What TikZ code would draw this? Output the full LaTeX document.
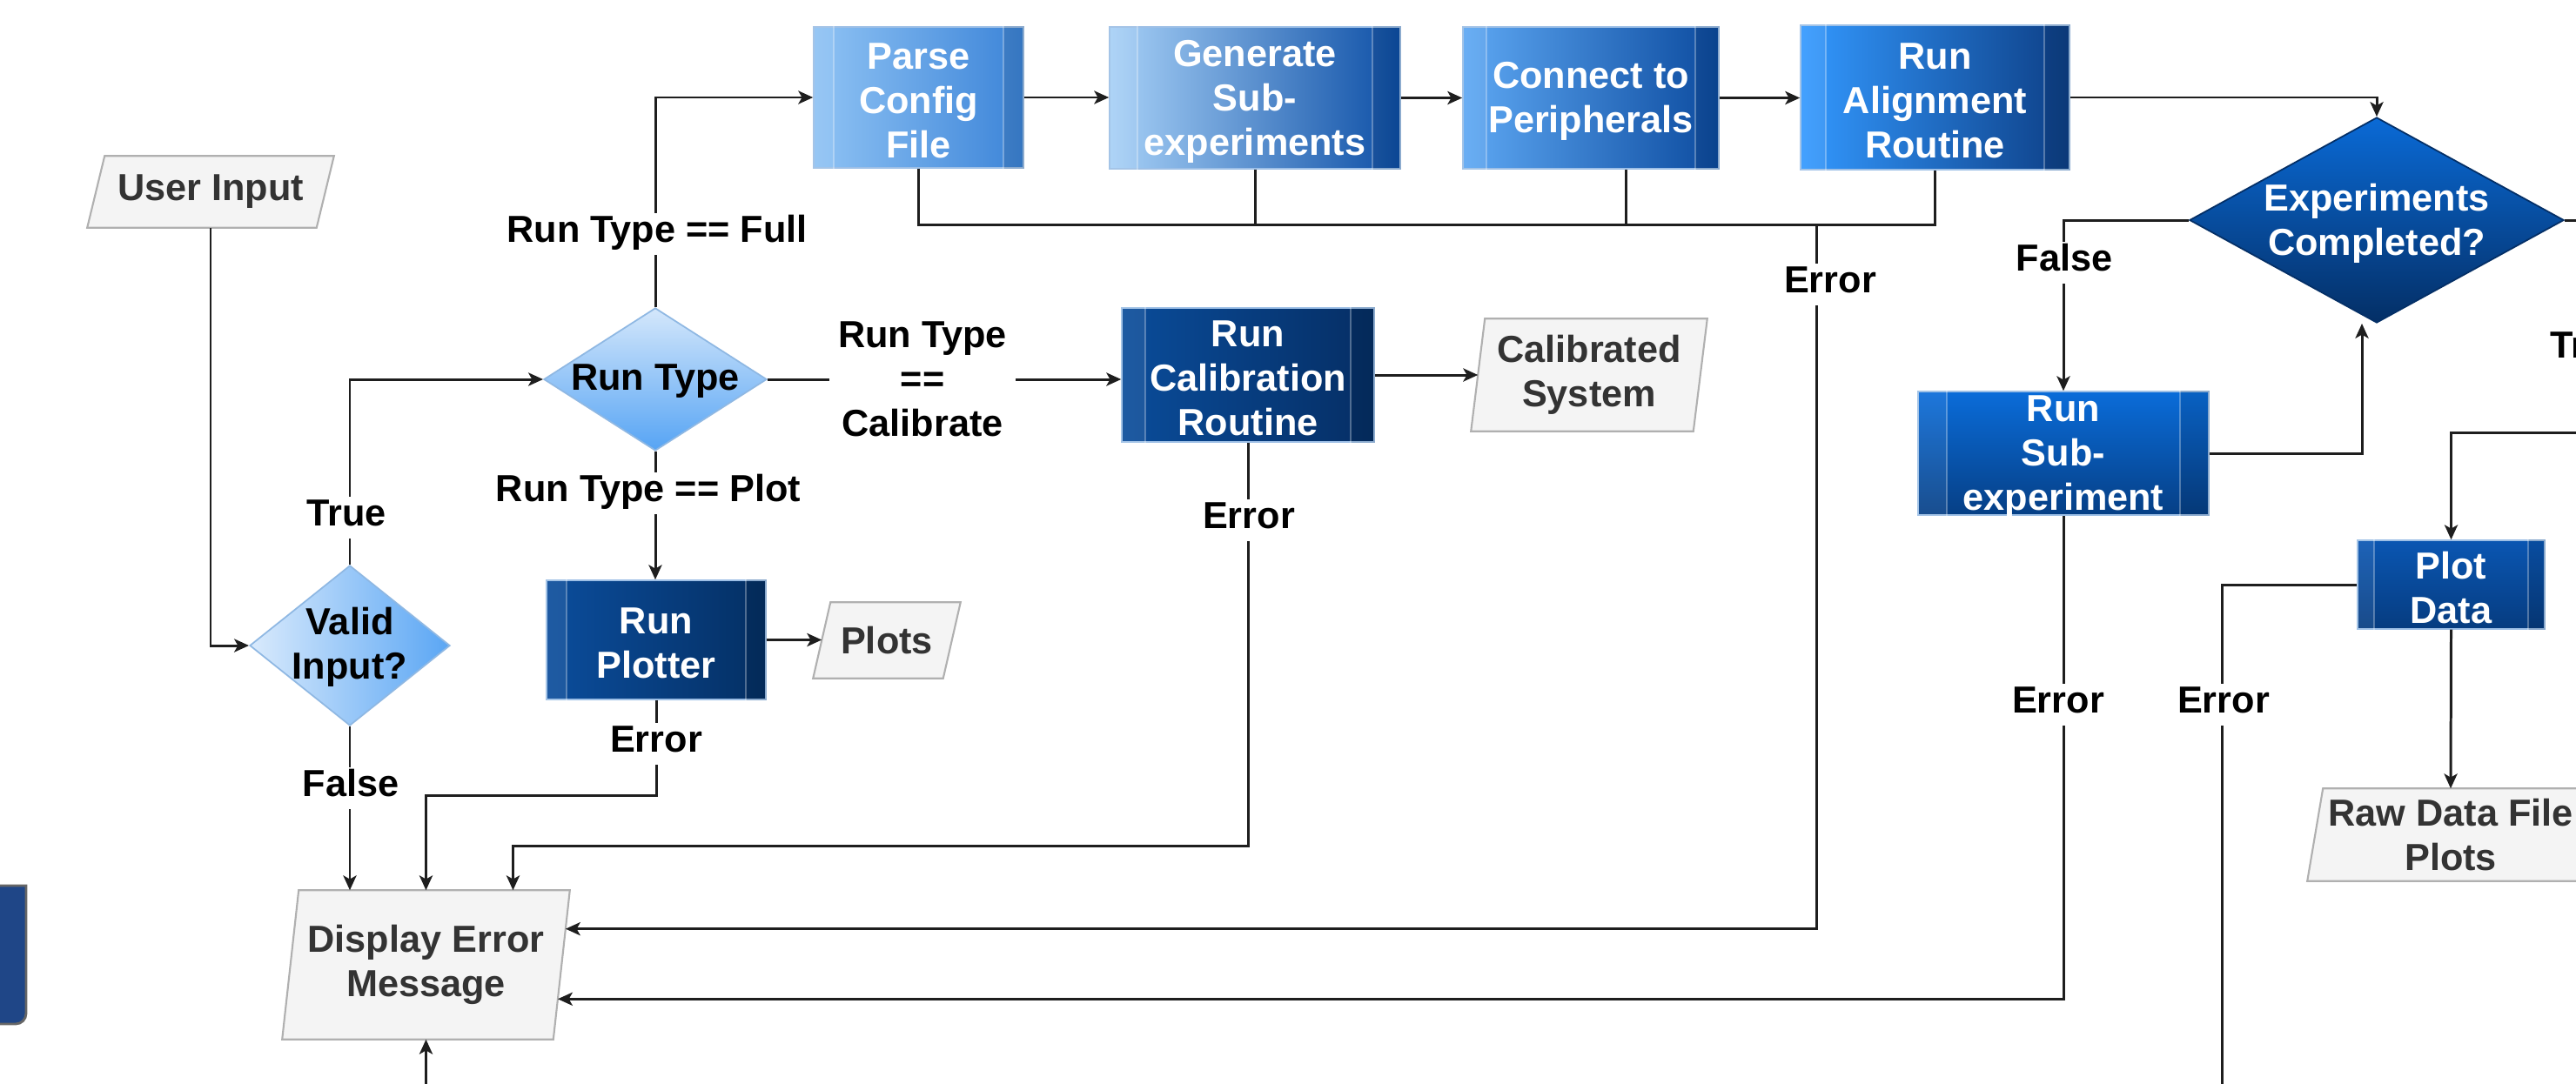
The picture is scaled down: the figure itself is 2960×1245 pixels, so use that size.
\documentclass[tikz,border=0pt]{standalone}
\usepackage{fontspec}
\setmainfont{Liberation Sans}
\usetikzlibrary{shapes.geometric,arrows.meta,calc,backgrounds}
\definecolor{linec}{HTML}{1E1E1E}
\definecolor{iofill}{HTML}{F4F4F4}
\definecolor{ioedge}{HTML}{B0B0B0}
\definecolor{iotx}{HTML}{333333}
\definecolor{procedge}{HTML}{9DBFE6}
\definecolor{pcL}{HTML}{8FC3F4}\definecolor{pcR}{HTML}{3C84D8}
\definecolor{gsL}{HTML}{A8D1F7}\definecolor{gsR}{HTML}{0D4FA6}
\definecolor{cpL}{HTML}{5EA8F3}\definecolor{cpR}{HTML}{0C4B9F}
\definecolor{arL}{HTML}{3399FF}\definecolor{arR}{HTML}{0D3F86}
\definecolor{rcL}{HTML}{0A4C9A}\definecolor{rcR}{HTML}{052E64}
\definecolor{rpL}{HTML}{0B4D9C}\definecolor{rpR}{HTML}{042F63}
\definecolor{rsT}{HTML}{0A6CD9}\definecolor{rsB}{HTML}{063F85}
\definecolor{pdT}{HTML}{0A56B2}\definecolor{pdB}{HTML}{063C80}
\definecolor{ecT}{HTML}{0A6AD6}\definecolor{ecB}{HTML}{042F66}
\definecolor{rtT}{HTML}{D4E7FB}\definecolor{rtB}{HTML}{56A4F4}
\definecolor{viL}{HTML}{D9EAFC}\definecolor{viR}{HTML}{5AA6F4}
\definecolor{diaedge}{HTML}{8FB8E3}
\definecolor{leftblue}{HTML}{1F4687}
\newcommand\ioshape[2]{\begin{pgfonlayer}{background}\filldraw[iosh] ($(#1.north west)+(#2,0)$) -- (#1.north east) -- ($(#1.south east)-(#2,0)$) -- (#1.south west) -- cycle;\end{pgfonlayer}}
\newcommand\strips[2]{%
  \fill[white, fill opacity=0.08] (#1.north west) rectangle ($(#1.south west)+(#2,0)$);
  \fill[black, fill opacity=0.10] (#1.north east) rectangle ($(#1.south east)-(#2,0)$);
  \draw[strip] ($(#1.north west)+(#2,0)$) -- ($(#1.south west)+(#2,0)$);
  \draw[strip] ($(#1.north east)-(#2,0)$) -- ($(#1.south east)-(#2,0)$);}
\tikzset{
  txt/.style={font=\fontsize{12.3}{14.5}\selectfont\bfseries, align=center, inner sep=0pt},
  lbl/.style={txt, fill=white, text=black, inner xsep=3pt, inner ysep=2pt, text height=0.74em, text depth=0.2em},
  lblm/.style={txt, fill=white, text=black, inner xsep=3pt, inner ysep=2pt},
  ptext/.style={txt, text=white, yshift=-0.04cm},
  dtext/.style={txt, text=black, yshift=-0.02cm},
  iotext/.style={txt, text=iotx, rectangle},
  proc/.style={rectangle, draw=procedge, line width=0.4pt, inner sep=0pt},
  dia/.style={diamond, inner sep=0pt, line width=0.5pt},
  iosh/.style={fill=iofill, draw=ioedge, line width=0.6pt},
  conn/.style={draw=linec, line width=0.85pt},
  arr/.style={conn, -{Stealth[length=4.8pt,width=4.3pt,inset=1.2pt]}},
  strip/.style={draw=white, draw opacity=0.3, line width=0.5pt}
}
\begin{document}
\begin{tikzpicture}[x=0.01cm,y=-0.01cm]
\useasboundingbox (0,0) rectangle (2960,1245);
\begin{pgfonlayer}{background}
\fill[white] (0,0) rectangle (2960,1245);
\end{pgfonlayer}

% ---------- input / output parallelograms ----------
\node[iotext, minimum width=2.82cm, minimum height=0.81cm] (ui) at (242,220.5) {User Input};
\ioshape{ui}{20}
\node[iotext, minimum width=3.29cm, minimum height=1.70cm] (de) at (489.5,1109) {Display Error\\Message};
\ioshape{de}{19}
\node[iotext, minimum width=1.68cm, minimum height=0.86cm] (pl) at (1019,736) {Plots};
\ioshape{pl}{20}
\node[iotext, minimum width=2.70cm, minimum height=1.28cm] (cs) at (1826,431) {Calibrated\\System};
\ioshape{cs}{16}
\node[iotext, minimum width=3.28cm, minimum height=1.05cm] (rd) at (2816,959.5) {Raw Data File\\Plots};
\ioshape{rd}{18}

% ---------- process boxes ----------
\node[proc, minimum width=2.41cm, minimum height=1.62cm, left color=pcL, right color=pcR] (pc) at (1055.5,112) {};
\strips{pc}{24}
\node[ptext] (pc-t) at (pc) {Parse\\Config\\File};
\node[proc, minimum width=3.34cm, minimum height=1.63cm, left color=gsL, right color=gsR] (gs) at (1442,112.5) {};
\strips{gs}{33}
\node[ptext] (gs-t) at (gs) {Generate\\Sub-\\experiments};
\node[proc, minimum width=2.94cm, minimum height=1.63cm, left color=cpL, right color=cpR] (cp) at (1828,112.5) {};
\strips{cp}{28}
\node[ptext] (cp-t) at (cp) {Connect to\\Peripherals};
\node[proc, minimum width=3.09cm, minimum height=1.66cm, left color=arL, right color=arR] (ar) at (2223.5,112) {};
\strips{ar}{30}
\node[ptext] (ar-t) at (ar) {Run\\Alignment\\Routine};
\node[proc, minimum width=2.90cm, minimum height=1.54cm, left color=rcL, right color=rcR] (rc) at (1434,431) {};
\strips{rc}{28}
\node[ptext] (rc-t) at (rc) {Run\\Calibration\\Routine};
\node[proc, minimum width=2.52cm, minimum height=1.37cm, left color=rpL, right color=rpR] (rp) at (754,735.5) {};
\strips{rp}{24}
\node[ptext] (rp-t) at (rp) {Run\\Plotter};
\node[proc, minimum width=3.34cm, minimum height=1.42cm, top color=rsT, bottom color=rsB] (rs) at (2371,521) {};
\strips{rs}{34}
\node[ptext] (rs-t) at (rs) {Run\\Sub-\\experiment};
\node[proc, minimum width=2.15cm, minimum height=1.02cm, top color=pdT, bottom color=pdB] (pd) at (2816.5,672) {};
\strips{pd}{20}
\node[ptext] (pd-t) at (pd) {Plot\\Data};

% ---------- decisions ----------
\node[dia, minimum width=2.30cm, minimum height=1.84cm, left color=viL, right color=viR, draw=diaedge] (vi) at (402,742) {};
\node[dtext] (vi-t) at (vi) {Valid\\Input?};
\node[dia, minimum width=2.56cm, minimum height=1.64cm, top color=rtT, bottom color=rtB, draw=diaedge] (rt) at (753,436) {};
\node[dtext] (rt-t) at (rt) {Run Type};
\node[dia, minimum width=4.30cm, minimum height=2.36cm, top color=ecT, bottom color=ecB, draw=ecB] (ec) at (2731,253) {};
\node[ptext] (ec-t) at (ec) {Experiments\\Completed?};

% partial box at the left edge
\draw[fill=leftblue, draw=black!60, line width=0.8pt] (-100,1018) -- (30,1018) [rounded corners=0.12cm] -- (30,1177) -- (-100,1177) -- cycle;

% ---------- helper coordinates ----------
\coordinate (bus) at (2087,258);
\coordinate (cpb) at ($(cp.south)+(40,0)$);
\coordinate (deBR) at ($(de.south east)+(-19,0)$);
\coordinate (deA) at ($(de.north east)!0.259!(deBR)$);
\coordinate (deB) at ($(de.north east)!0.729!(deBR)$);
\coordinate (plL) at ($(pl.west)+(10,0)$);
\coordinate (csL) at ($(cs.west)+(8,0)$);
\coordinate (inB) at (489.5,1300);
\coordinate (outR) at (3050,253);
\coordinate (inR) at (3050,497);
\coordinate (outB) at (2553,1300);

% ---------- connectors ----------
\draw[arr] (ui.south) |- (vi.west);
\draw[arr] (vi.north) |- (rt.west);
\draw[arr] (vi.south) -- (vi.south |- de.north);
\draw[arr] (rt.north) |- (pc.west);
\draw[arr] (rt.east) -- (rt.east -| rc.west);
\draw[arr] (rt.south) -- (rt.south |- rp.north);
\draw[arr] (rp.east) -- (rp.east -| plL);
\draw[arr] (rc.east) -- (csL);
\draw[arr] (pc.east) -- (pc.east -| gs.west);
\draw[arr] (gs.east) -- (gs.east -| cp.west);
\draw[arr] (cp.east) -- (cp.east -| ar.west);
\draw[arr] (ar.east) -| (ec.north);
\draw[conn] (pc.south) |- (bus) -| (ar.south);
\draw[conn] (gs.south) -- (gs.south |- bus);
\draw[conn] (cpb) -- (cpb |- bus);
\draw[arr] (bus) |- (deA);
\draw[arr] (rs.south) |- (deB);
\draw[arr] (rc.south) |- ($(de.north)+(100,-51)$) -- ($(de.north)+(100,0)$);
\draw[arr] (rp.south) |- ($(de.north)+(0,-109)$) -- (de.north);
\draw[arr] (inB) -- (de.south);
\draw[arr] (ec.west) -| (rs.north);
\draw[arr] (rs.east) -| ($(ec.south)+(-17,0)$);
\draw[conn] (ec.east) -- (outR);
\draw[arr] (inR) -| (pd.north);
\draw[conn] (pd.west) -| (outB);
\draw[arr] (pd.south) -- (rd.north);

% ---------- labels ----------
\node[lbl] (l-true1) at (398,595) {True};
\node[lbl] (l-false1) at (403,906) {False};
\node[lbl] (l-full) at (755,269) {Run Type == Full};
\node[lbl] (l-plot) at (745,567) {Run Type == Plot};
\node[lblm] (l-cal) at (1060,436) {Run Type\\==\\Calibrate};
\node[lbl] (l-err1) at (754,855) {Error};
\node[lbl] (l-err2) at (1435,598) {Error};
\node[lbl] (l-err3) at (2103,327) {Error};
\node[lbl] (l-false2) at (2372,302) {False};
\node[lbl] (l-err4) at (2365,810) {Error};
\node[lbl] (l-err5) at (2555,810) {Error};
\node[lbl, anchor=west] (l-true2) at (2919,402) {True};
\end{tikzpicture}
\end{document}
